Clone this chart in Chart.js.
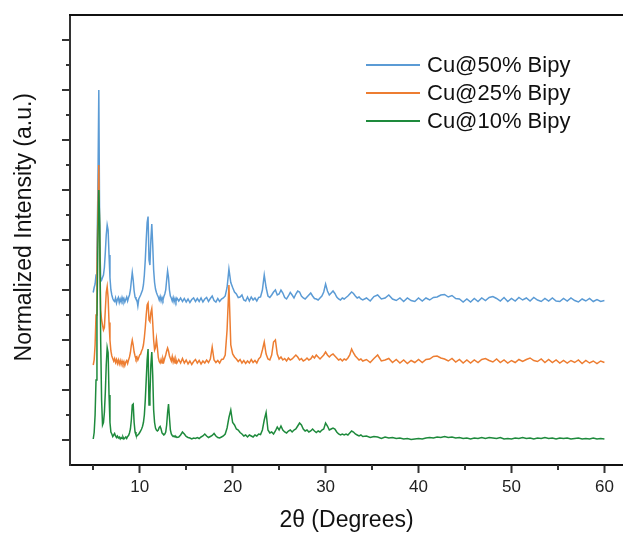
<!DOCTYPE html>
<html>
<head>
<meta charset="utf-8">
<script src="https://cdn.jsdelivr.net/npm/chart.js@4.4.1/dist/chart.umd.min.js"></script>
<style>
  body { margin: 0; background: #fff; }
  #wrap { position: relative; width: 623px; height: 540px; }
  #legend { position: absolute; left: 366px; top: 51px; font: 22px "Liberation Sans", Arial, sans-serif; color: #111; }
  .row { display: flex; align-items: center; height: 28px; white-space: nowrap; }
  .swatch { display: inline-block; width: 54px; height: 2px; margin-right: 7px; }
</style>
</head>
<body>
<div id="wrap">
  <canvas id="xrd" width="623" height="540"></canvas>
  <div id="legend"></div>
</div>
<script>
// 2theta sampling (degrees)
const twoTheta = [
  5.0, 5.1, 5.2, 5.3, 5.4, 5.5, 5.6, 5.7, 5.8, 5.9,
  6.0, 6.1, 6.2, 6.3, 6.4, 6.5, 6.6, 6.7, 6.8, 6.9,
  7.0, 7.1, 7.2, 7.3, 7.4, 7.5, 7.6, 7.7, 7.8, 7.9,
  8.0, 8.1, 8.2, 8.3, 8.4, 8.5, 8.6, 8.7, 8.8, 8.9,
  9.0, 9.1, 9.2, 9.3, 9.4, 9.5, 9.6, 9.7, 9.8, 9.9,
  10.0, 10.1, 10.2, 10.3, 10.4, 10.5, 10.6, 10.7, 10.8, 10.9,
  11.0, 11.1, 11.2, 11.3, 11.4, 11.5, 11.6, 11.7, 11.8, 11.9,
  12.0, 12.1, 12.2, 12.3, 12.4, 12.5, 12.6, 12.7, 12.8, 12.9,
  13.0, 13.1, 13.2, 13.3, 13.4, 13.5, 13.6, 13.7, 13.8, 13.9,
  14.0,
  14.2, 14.4, 14.6, 14.8, 15.0, 15.2, 15.4, 15.6, 15.8, 16.0,
  16.2, 16.4, 16.6, 16.8, 17.0, 17.2, 17.4, 17.6, 17.8, 18.0,
  18.2, 18.4, 18.6, 18.8, 19.0, 19.2, 19.4, 19.6, 19.8, 20.0,
  20.2, 20.4, 20.6, 20.8, 21.0, 21.2, 21.4, 21.6, 21.8, 22.0,
  22.2, 22.4, 22.6, 22.8, 23.0, 23.2, 23.4, 23.6, 23.8, 24.0,
  24.2, 24.4, 24.6, 24.8, 25.0, 25.2, 25.4, 25.6, 25.8, 26.0,
  26.2, 26.4, 26.6, 26.8, 27.0, 27.2, 27.4, 27.6, 27.8, 28.0,
  28.2, 28.4, 28.6, 28.8, 29.0, 29.2, 29.4, 29.6, 29.8, 30.0,
  30.2, 30.4, 30.6, 30.8, 31.0, 31.2, 31.4, 31.6, 31.8, 32.0,
  32.2, 32.4, 32.6, 32.8, 33.0, 33.2, 33.4, 33.6, 33.8, 34.0,
  34.4, 34.8, 35.2, 35.6, 36.0, 36.4, 36.8, 37.2, 37.6, 38.0,
  38.4, 38.8, 39.2, 39.6, 40.0, 40.4, 40.8, 41.2, 41.6, 42.0,
  42.4, 42.8, 43.2, 43.6, 44.0, 44.4, 44.8, 45.2, 45.6, 46.0,
  46.4, 46.8, 47.2, 47.6, 48.0, 48.4, 48.8, 49.2, 49.6, 50.0,
  50.4, 50.8, 51.2, 51.6, 52.0, 52.4, 52.8, 53.2, 53.6, 54.0,
  54.4, 54.8, 55.2, 55.6, 56.0, 56.4, 56.8, 57.2, 57.6, 58.0,
  58.4, 58.8, 59.2, 59.6, 60.0
];

// normalized intensity, offset as plotted
const cu50 = [
  2.95, 3.05, 3.12, 3.3, 3.7, 5.0, 7.0, 4.0, 3.25, 3.2,
  3.25, 3.3, 3.45, 3.75, 4.1, 4.3, 4.2, 3.7, 3.25, 3.0,
  2.9, 2.83, 2.79, 2.77, 2.84, 2.74, 2.81, 2.85, 2.75, 2.82,
  2.76, 2.85, 2.78, 2.83, 2.76, 2.81, 2.86, 2.78, 2.85, 2.9,
  3.0, 3.18, 3.35, 3.2, 2.98, 2.86, 2.82, 2.8, 2.68, 2.82,
  2.86, 2.9, 2.95, 3.0, 3.1, 3.3, 3.6, 4.0, 4.35, 4.47,
  3.6, 3.5, 4.0, 4.32, 3.9, 3.4, 3.15, 3.02, 2.95, 2.9,
  2.86, 2.8, 2.87, 2.78, 2.85, 2.8, 2.87, 2.92, 3.0, 3.2,
  3.38, 3.25, 3.0, 2.88, 2.84, 2.78, 2.85, 2.76, 2.83, 2.77,
  2.84,
  2.78, 2.84, 2.77, 2.83, 2.76, 2.82, 2.75, 2.81, 2.84, 2.77,
  2.83, 2.77, 2.84, 2.76, 2.82, 2.85, 2.77, 2.83, 2.88, 2.79,
  2.76, 2.83, 2.77, 2.82, 2.84, 2.88, 3.05, 3.42, 3.15, 3.05,
  2.96, 2.92, 2.85, 2.86, 2.9, 2.8, 2.78, 2.86, 2.78, 2.86,
  2.8, 2.84, 2.78, 2.85, 2.86, 3.0, 3.3, 3.05, 2.88, 2.85,
  2.9, 2.96, 3.0, 2.9, 2.92, 3.0, 2.94, 2.85, 2.82, 2.88,
  2.95, 2.9, 2.84, 2.92, 2.98, 2.96, 2.88, 2.84, 2.82, 2.86,
  2.9, 2.94, 2.88, 2.83, 2.82, 2.8, 2.84, 2.88, 2.96, 3.12,
  2.98, 2.9, 2.94, 2.98, 2.93, 2.86, 2.82, 2.8, 2.84, 2.82,
  2.85, 2.88, 2.92, 2.96, 2.93, 2.88, 2.84, 2.86, 2.82, 2.8,
  2.84, 2.78, 2.87, 2.9, 2.82, 2.84, 2.9, 2.82, 2.79, 2.84,
  2.77, 2.84, 2.79, 2.77, 2.84, 2.78, 2.84, 2.8, 2.85, 2.86,
  2.9, 2.91, 2.86, 2.89, 2.83, 2.82, 2.76, 2.82, 2.76, 2.83,
  2.77, 2.84, 2.79, 2.85, 2.87, 2.83, 2.78, 2.85, 2.77, 2.83,
  2.78, 2.85, 2.8, 2.84, 2.78, 2.85, 2.8, 2.77, 2.83, 2.78,
  2.84, 2.78, 2.77, 2.83, 2.78, 2.84, 2.79, 2.76, 2.82, 2.78,
  2.83, 2.77, 2.81, 2.77, 2.79
];

const cu25 = [
  1.5, 1.6, 1.9, 2.5, 3.4, 4.5, 5.5, 3.8, 2.6, 2.4,
  2.3, 2.2, 2.25, 2.6, 2.95, 3.07, 2.85, 2.35, 2.0, 1.78,
  1.68, 1.63, 1.58, 1.63, 1.55, 1.61, 1.53, 1.6, 1.52, 1.59,
  1.51, 1.58, 1.52, 1.57, 1.49, 1.56, 1.59, 1.53, 1.6, 1.66,
  1.75, 1.9, 2.0, 1.9, 1.76, 1.68, 1.62, 1.66, 1.6, 1.65,
  1.7, 1.72, 1.78, 1.82, 1.9, 2.05, 2.25, 2.5, 2.7, 2.74,
  2.4, 2.37, 2.55, 2.63, 2.35, 2.0, 1.8, 1.85, 2.02, 1.85,
  1.65, 1.57, 1.54, 1.61, 1.54, 1.63, 1.57, 1.64, 1.7, 1.78,
  1.84, 1.78, 1.68, 1.63, 1.58, 1.67, 1.56, 1.63, 1.54, 1.61,
  1.54,
  1.61, 1.54, 1.63, 1.54, 1.6, 1.52, 1.58, 1.51, 1.57, 1.61,
  1.54, 1.59, 1.52, 1.58, 1.54, 1.6, 1.55, 1.62, 1.86, 1.6,
  1.55, 1.59, 1.54, 1.61, 1.62, 1.7, 2.2, 3.1, 1.9, 1.72,
  1.66, 1.62, 1.57, 1.61, 1.54, 1.59, 1.53, 1.58, 1.54, 1.61,
  1.55, 1.59, 1.54, 1.62, 1.66, 1.8, 1.96, 1.72, 1.62, 1.6,
  1.7, 1.96, 2.0, 1.72, 1.62, 1.66, 1.6, 1.63, 1.58, 1.64,
  1.6, 1.62, 1.66, 1.7, 1.66, 1.6, 1.63, 1.58, 1.6, 1.64,
  1.6, 1.62, 1.68, 1.64, 1.7, 1.66, 1.62, 1.66, 1.7, 1.76,
  1.7, 1.66, 1.7, 1.72, 1.68, 1.64, 1.6, 1.62, 1.58, 1.62,
  1.6, 1.64, 1.7, 1.82, 1.74, 1.68, 1.64, 1.6, 1.62, 1.58,
  1.61, 1.55, 1.63, 1.7, 1.58, 1.6, 1.63, 1.55, 1.61, 1.54,
  1.6, 1.53, 1.59, 1.55, 1.61, 1.55, 1.61, 1.62, 1.67, 1.68,
  1.64, 1.62, 1.58, 1.63, 1.56, 1.61, 1.54, 1.6, 1.54, 1.6,
  1.55, 1.61, 1.63, 1.59, 1.56, 1.62, 1.55, 1.6, 1.54, 1.59,
  1.55, 1.61, 1.57, 1.61, 1.64, 1.59, 1.57, 1.62, 1.55, 1.61,
  1.55, 1.6, 1.54, 1.59, 1.54, 1.59, 1.55, 1.6, 1.53, 1.59,
  1.54, 1.58, 1.53, 1.58, 1.55
];

const cu10 = [
  0.02, 0.15, 0.5, 1.2, 2.4, 3.9, 5.0, 4.3, 2.0, 0.8,
  0.3, 0.35, 0.55, 0.95, 1.5, 1.85, 1.75, 0.9, 0.35, 0.16,
  0.12, 0.07, 0.1, 0.13, 0.08, 0.05, 0.08, 0.04, 0.06, 0.02,
  0.05, 0.03, 0.06, 0.02, 0.04, 0.06, 0.03, 0.07, 0.09, 0.14,
  0.22, 0.4, 0.7, 0.72, 0.35, 0.16, 0.1, 0.08, 0.1, 0.12,
  0.15, 0.18, 0.22, 0.27, 0.35, 0.5, 0.8, 1.2, 1.6, 1.82,
  0.7, 0.9, 1.5, 1.76, 1.3, 0.6, 0.35, 0.24, 0.2, 0.18,
  0.2, 0.25, 0.27, 0.22, 0.14, 0.12, 0.1, 0.12, 0.16, 0.3,
  0.55, 0.72, 0.45, 0.2, 0.12, 0.09, 0.07, 0.08, 0.06, 0.07,
  0.05,
  0.06, 0.1, 0.16, 0.12, 0.07, 0.05, 0.04, 0.02, 0.04, 0.03,
  0.05, 0.03, 0.06, 0.08, 0.12, 0.08, 0.05, 0.07, 0.09, 0.13,
  0.08, 0.05, 0.04, 0.06, 0.08, 0.12, 0.24, 0.45, 0.6, 0.35,
  0.3, 0.22, 0.2, 0.15, 0.12, 0.08, 0.1, 0.06, 0.1, 0.08,
  0.06, 0.1, 0.08, 0.12, 0.11, 0.2, 0.4, 0.55, 0.2, 0.14,
  0.16, 0.12, 0.18, 0.26, 0.2, 0.28, 0.2, 0.16, 0.14, 0.18,
  0.2, 0.16, 0.2, 0.22, 0.28, 0.34, 0.3, 0.22, 0.18, 0.2,
  0.16, 0.18, 0.22, 0.18, 0.15, 0.18, 0.16, 0.2, 0.22, 0.34,
  0.28, 0.2, 0.22, 0.24, 0.22, 0.16, 0.12, 0.1, 0.12, 0.1,
  0.12, 0.1, 0.14, 0.18, 0.16, 0.12, 0.1, 0.08, 0.1, 0.07,
  0.08, 0.05, 0.07, 0.06, 0.03, 0.06, 0.04, 0.05, 0.03, 0.04,
  0.02, 0.03, 0.01, 0.02, 0.03, 0.02, 0.04, 0.05, 0.04, 0.06,
  0.05, 0.07, 0.05, 0.06, 0.04, 0.05, 0.03, 0.04, 0.02, 0.04,
  0.03, 0.05, 0.03, 0.05, 0.04, 0.03, 0.05, 0.02, 0.03, 0.02,
  0.04, 0.03, 0.05, 0.03, 0.04, 0.02, 0.04, 0.03, 0.05, 0.03,
  0.04, 0.02, 0.04, 0.03, 0.04, 0.02, 0.03, 0.04, 0.02, 0.03,
  0.02, 0.04, 0.02, 0.03, 0.02
];

const seriesNames = ['Cu@50% Bipy', 'Cu@25% Bipy', 'Cu@10% Bipy'];
const seriesColors = ['#5b9bd5', '#ed7d31', '#1e8a3c'];

const xMinorTicks = [5, 15, 25, 35, 45, 55];
const yMajorTicks = [0, 1, 2, 3, 4, 5, 6, 7, 8];
const yMinorTicks = [0.5, 1.5, 2.5, 3.5, 4.5, 5.5, 6.5, 7.5];

const toPoints = vals => twoTheta.map((x, i) => ({ x: x, y: vals[i] }));

// top frame line plus the short/long ticks the axes can't do by themselves
const axisDecor = {
  id: 'axisDecor',
  afterDraw(chart) {
    const { ctx, chartArea: a, scales: { x, y } } = chart;
    ctx.save();
    ctx.lineWidth = 2;
    ctx.strokeStyle = '#111';
    ctx.beginPath();
    ctx.moveTo(a.left - 1, a.top);
    ctx.lineTo(a.right, a.top);
    ctx.stroke();

    ctx.strokeStyle = '#333';
    ctx.beginPath();
    yMajorTicks.forEach(v => {
      const py = Math.round(y.getPixelForValue(v));
      ctx.moveTo(a.left - 8, py);
      ctx.lineTo(a.left, py);
    });
    yMinorTicks.forEach(v => {
      const py = Math.round(y.getPixelForValue(v));
      ctx.moveTo(a.left - 4, py);
      ctx.lineTo(a.left, py);
    });
    xMinorTicks.forEach(v => {
      const px = Math.round(x.getPixelForValue(v));
      ctx.moveTo(px, a.bottom);
      ctx.lineTo(px, a.bottom + 5);
    });
    ctx.stroke();
    ctx.restore();
  }
};

const font = '"Liberation Sans", Arial, sans-serif';

const chart = new Chart(document.getElementById('xrd'), {
  type: 'line',
  data: {
    datasets: [cu50, cu25, cu10].map((vals, i) => ({
      label: seriesNames[i],
      data: toPoints(vals),
      borderColor: seriesColors[i],
      borderWidth: 1.5,
      pointRadius: 0,
      tension: 0,
      order: 3 - i,
    }))
  },
  options: {
    responsive: false,
    animation: false,
    layout: { padding: { top: 15, right: 0, left: 0, bottom: 0 } },
    plugins: { legend: { display: false }, tooltip: { enabled: false } },
    scales: {
      x: {
        type: 'linear',
        min: 2.5,
        max: 62,
        afterFit: s => { s.height = 75; },
        border: { color: '#111', width: 2 },
        grid: { drawOnChartArea: false, tickLength: 8, tickWidth: 2, tickColor: '#333' },
        ticks: { stepSize: 10, includeBounds: false, autoSkip: false, maxRotation: 0, padding: 4,
                 color: '#222', font: { family: font, size: 17 } },
        title: { display: true, text: '2θ (Degrees)', color: '#111',
                 font: { family: font, size: 23 }, padding: { top: 0, bottom: 6 } }
      },
      y: {
        min: -0.5,
        max: 8.5,
        afterFit: s => { s.width = 70; },
        border: { color: '#333', width: 2 },
        grid: { drawOnChartArea: false, drawTicks: false },
        ticks: { display: false },
        title: { display: true, text: '\u00a0\u00a0\u00a0\u00a0Normalized Intensity (a.u.)', color: '#111',
                 font: { family: font, size: 23 }, padding: { top: 11, bottom: 0 } }
      }
    }
  },
  plugins: [axisDecor]
});

// legend inside the plot, top right
document.getElementById('legend').innerHTML = chart.data.datasets.map(ds => `
  <div class="row"><span class="swatch" style="background:${ds.borderColor}"></span>${ds.label}</div>
`).join('');
</script>
</body>
</html>
